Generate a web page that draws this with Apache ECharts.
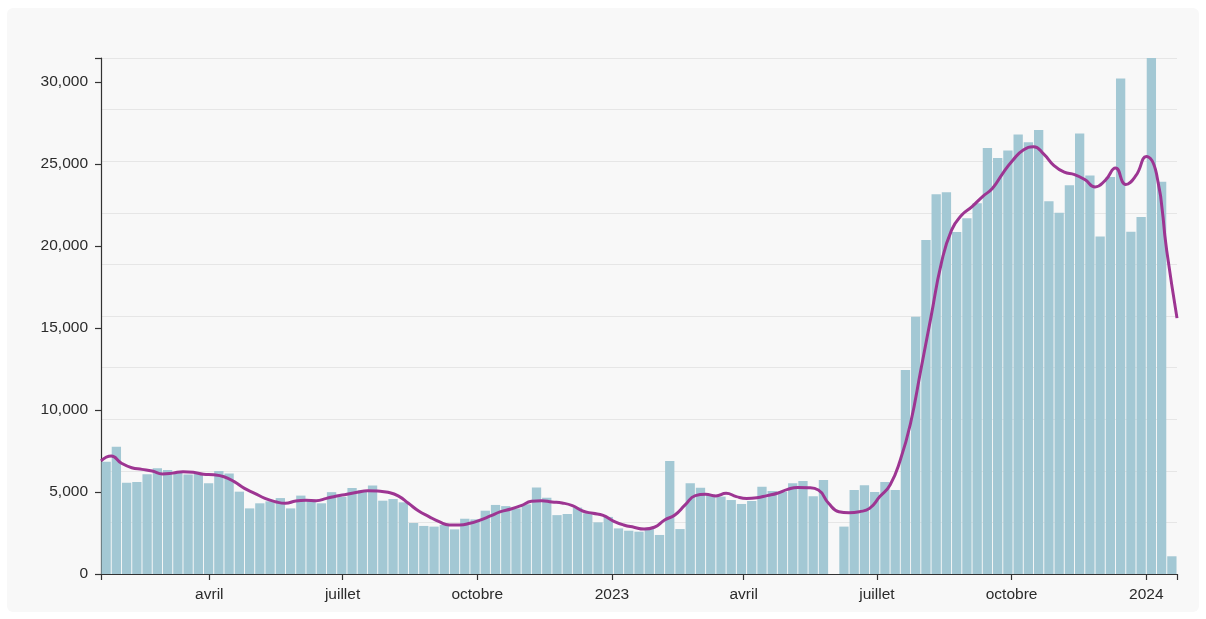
<!DOCTYPE html>
<html>
<head>
<meta charset="utf-8">
<script src="https://cdn.jsdelivr.net/npm/echarts@6/dist/echarts.min.js"></script>
<style>
  html, body { margin: 0; padding: 0; background: #ffffff; }
  #card { position: absolute; left: 7px; top: 8px; width: 1192px; height: 604px; background: #f8f8f8; border-radius: 6px; }
  #chart { position: absolute; left: 0; top: 0; width: 1206px; height: 619px; }
</style>
</head>
<body>
<div id="card"></div>
<div id="chart"></div>
<script>
// ---- Data ----
const firstWeekStart = [2022, 0, 17];   // Monday of the first weekly bar
const weekCount = 105;

const weeklyCounts = [
  6850, 7760, 5570, 5610, 6080, 6440, 6340, 6220, 6060, 6100,
  5530, 6280, 6120, 5020, 4000, 4310, 4430, 4630, 4000, 4780,
  4450, 4310, 4990, 4700, 5240, 5120, 5400, 4470, 4570, 4370,
  3110, 2930, 2890, 2990, 2720, 3370, 3330, 3860, 4210, 4140,
  4000, 4250, 5280, 4650, 3590, 3660, 4050, 3700, 3150, 3480,
  2780, 2640, 2580, 2780, 2380, 6890, 2740, 5530, 5260, 4850,
  4720, 4510, 4270, 4450, 5320, 5060, 5020, 5530, 5670, 4740,
  5730, null, 2890, 5120, 5410, 5000, 5610, 5120, 12440, 15690,
  20360, 23150, 23270, 20850, 21690, 22600, 25970, 25360, 25820, 26800,
  26330, 27070, 22720, 22030, 23700, 26860, 24300, 20570, 24210, 30210,
  20860, 21760, 31460, 23910, 1080
];

// smoothed trend, one value per week boundary (106 points)
const smoothedTrend = [
  6900, 7190, 6750, 6480, 6380, 6280, 6100, 6150, 6240, 6200,
  6080, 6050, 5930, 5630, 5220, 4920, 4610, 4410, 4310, 4450,
  4490, 4470, 4610, 4760, 4860, 4980, 5080, 5060, 4980, 4760,
  4310, 3840, 3500, 3190, 2990, 2990, 3090, 3290, 3540, 3800,
  3960, 4170, 4430, 4470, 4390, 4330, 4170, 3840, 3700, 3580,
  3230, 2990, 2850, 2740, 2850, 3290, 3600, 4210, 4780, 4860,
  4760, 4920, 4720, 4610, 4650, 4780, 4920, 5160, 5280, 5260,
  5120, 4310, 3800, 3740, 3800, 4000, 4720, 5430, 6950, 9190,
  12440, 15690, 18940, 20970, 21890, 22400, 23000, 23520, 24430, 25240,
  25850, 26050, 25600, 24900, 24500, 24350, 24050, 23600, 24000, 24750,
  23750, 24300, 25450, 24400, 19700, 15600
];

const xTickDates = [[2022, 3, 1], [2022, 6, 1], [2022, 9, 1], [2023, 0, 1],
                    [2023, 3, 1], [2023, 6, 1], [2023, 9, 1], [2024, 0, 1]];
const monthLabels = { 3: 'avril', 6: 'juillet', 9: 'octobre' };
const yTickValues = [0, 5000, 10000, 15000, 20000, 25000, 30000];

// ---- Build ----
const DAY = 86400000;
const weekStart = i => new Date(firstWeekStart[0], firstWeekStart[1], firstWeekStart[2] + 7 * i).getTime();
const xMin = weekStart(0);
const xMax = weekStart(weekCount);
const yMax = Math.max(...weeklyCounts.filter(v => v != null));

const barData = weeklyCounts.map((v, i) => [weekStart(i) + 3.5 * DAY, v == null ? '-' : v]);
const lineData = smoothedTrend.map((v, i) => [weekStart(i), v]);
const xLabelValues = xTickDates.map(d => new Date(d[0], d[1], d[2]).getTime());
const xTickValues = [xMin].concat(xLabelValues, [xMax]);

const FONT = "'Liberation Sans', Arial, Helvetica, sans-serif";
const chart = echarts.init(document.getElementById('chart'), null, { renderer: 'canvas' });
chart.setOption({
  animation: false,
  backgroundColor: 'transparent',
  grid: { left: 101, right: 29, top: 58, bottom: 45, containLabel: false },
  xAxis: {
    type: 'value',
    min: xMin,
    max: xMax,
    axisLine: { show: true, onZero: false, lineStyle: { color: '#333', width: 1.2 } },
    axisTick: { show: true, length: 6, lineStyle: { color: '#333', width: 1.2 }, customValues: xTickValues },
    axisLabel: {
      show: true, margin: 13, color: '#2b2b2b', fontSize: 15.5, fontFamily: FONT,
      customValues: xLabelValues,
      formatter: function (val) {
        const d = new Date(val);
        if (d.getMonth() === 0) return String(d.getFullYear());
        return monthLabels[d.getMonth()] || '';
      }
    },
    splitLine: { show: false }
  },
  yAxis: [
    {
      type: 'value',
      min: 0,
      max: yMax,
      axisLine: { show: true, lineStyle: { color: '#333', width: 1.2 } },
      axisTick: { show: true, length: 6, lineStyle: { color: '#333', width: 1.2 }, customValues: yTickValues.concat([yMax]) },
      axisLabel: {
        show: true, margin: 13, color: '#2b2b2b', fontSize: 15.5, fontFamily: FONT,
        customValues: yTickValues,
        formatter: v => Number(v).toLocaleString('en-US')
      },
      splitLine: { show: false }
    },
    {
      type: 'value',
      min: 0, max: 10, interval: 1,
      show: true,
      axisLine: { show: false }, axisTick: { show: false }, axisLabel: { show: false },
      splitLine: { show: true, lineStyle: { color: '#e6e6e6', width: 1 } }
    }
  ],
  series: [
    {
      type: 'bar',
      data: barData,
      barWidth: 9.3,
      itemStyle: { color: '#a3c8d4' },
      z: 2
    },
    {
      type: 'line',
      data: lineData,
      smooth: 0.5,
      showSymbol: false,
      symbol: 'none',
      lineStyle: { color: '#9d3592', width: 3 },
      z: 3
    }
  ]
});
</script>
</body>
</html>
